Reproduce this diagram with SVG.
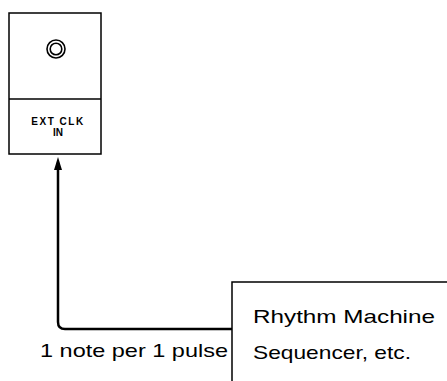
<svg xmlns="http://www.w3.org/2000/svg" width="447" height="381" viewBox="0 0 447 381">
<defs>
<style>
.ln{fill:none;stroke:#000;stroke-width:1.5}
.t{font-family:"Liberation Sans",Arial,sans-serif;fill:#000}
.lbl{font-size:19px}
.small{font-size:10px;font-weight:bold}
</style>
<marker id="ah" viewBox="0 0 13 8" refX="4" refY="4" markerWidth="13" markerHeight="8" orient="auto" markerUnits="userSpaceOnUse">
<path d="M0,0 L13,4 L0,8 z" fill="#000"/>
</marker>
</defs>
<rect width="447" height="381" fill="#fff"/>
<g id="ext-clk-in">
<rect class="ln" x="9" y="13" width="92" height="141"/>
<line class="ln" x1="9" y1="99" x2="101" y2="99"/>
<circle cx="56" cy="49" r="9" fill="none" stroke="#000" stroke-width="1.6"/>
<circle cx="56" cy="49" r="5.8" fill="none" stroke="#000" stroke-width="1.6"/>
<text class="t small" x="58" y="125" text-anchor="middle" letter-spacing="1.5">EXT CLK</text>
<text class="t small" x="58" y="136" text-anchor="middle">IN</text>
</g>
<g id="rhythm-machine">
<path class="ln" d="M232,381 V282 H447"/>
<text class="t lbl" x="253" y="323" textLength="182" lengthAdjust="spacingAndGlyphs">Rhythm Machine</text>
<text class="t lbl" x="253" y="359" textLength="158" lengthAdjust="spacingAndGlyphs">Sequencer, etc.</text>
</g>
<g id="connectors">
<path d="M232,329 H65 Q58,329 58,322 V166" fill="none" stroke="#000" stroke-width="2.5" marker-end="url(#ah)"/>
<text class="t lbl" x="40" y="357" textLength="188" lengthAdjust="spacingAndGlyphs">1 note per 1 pulse</text>
</g>
</svg>
